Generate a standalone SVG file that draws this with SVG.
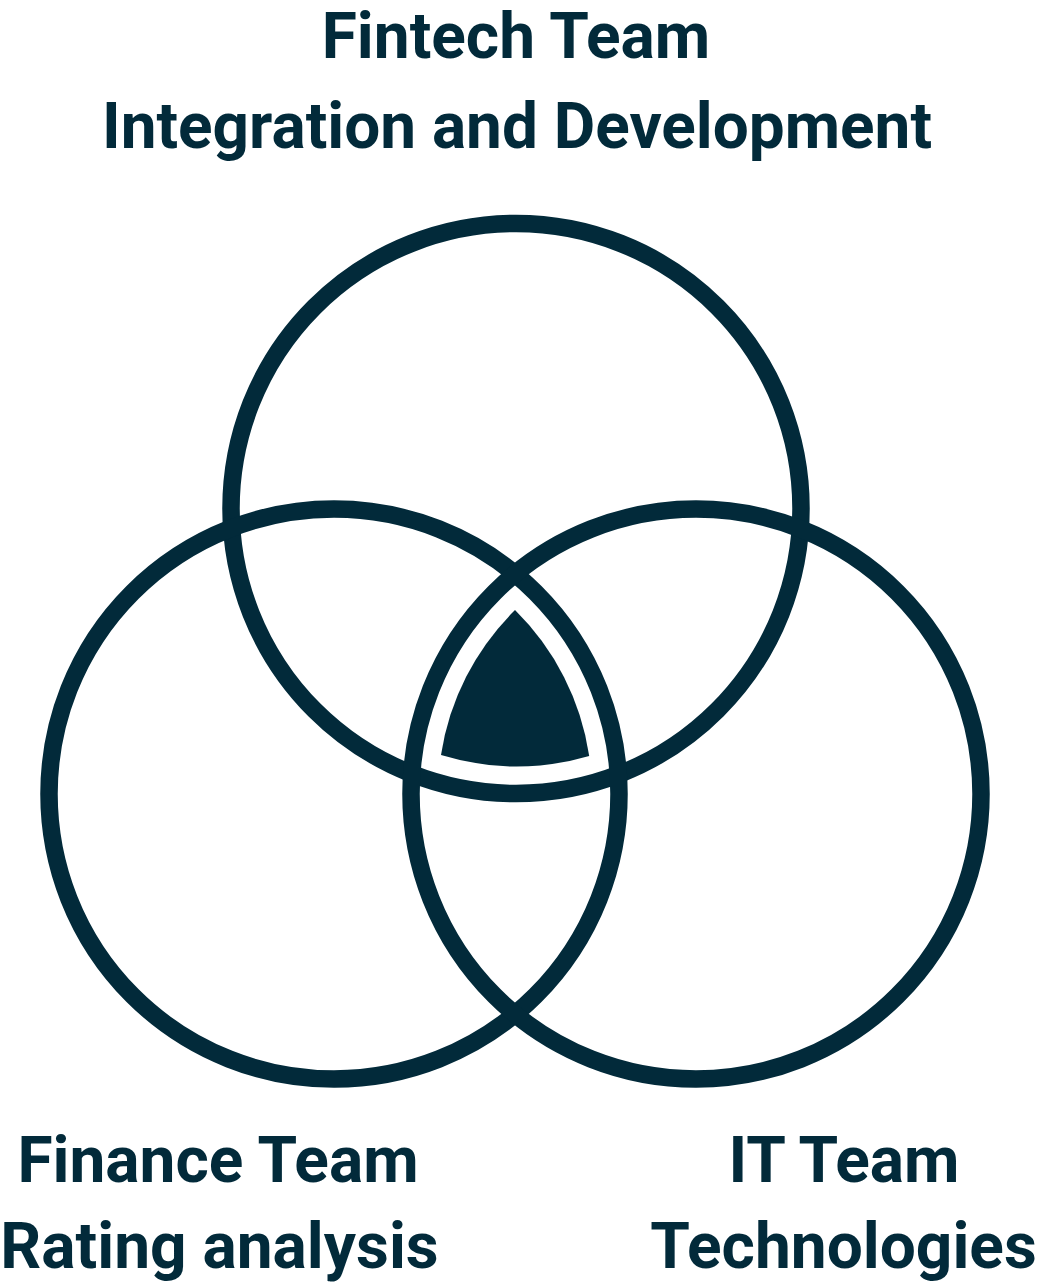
<svg xmlns="http://www.w3.org/2000/svg" width="1045" height="1285" viewBox="0 0 1045 1285">
<style>
.ring{fill:none;stroke:#022a3a;stroke-width:17.5}
.lbl{font-family:Roboto,"Liberation Sans",sans-serif;font-weight:700;font-size:64px;fill:#022a3a;text-anchor:middle}
</style>
<rect width="1045" height="1285" fill="#ffffff"/>
<g id="fintech">
<circle class="ring" cx="516" cy="508.5" r="285"/>
<text class="lbl" x="516" y="58">Fintech Team</text>
<text class="lbl" x="517" y="148" textLength="830" lengthAdjust="spacingAndGlyphs">Integration and Development</text>
</g>
<g id="finance">
<circle class="ring" cx="334" cy="794" r="285"/>
<text class="lbl" x="218" y="1182">Finance Team</text>
<text class="lbl" x="219.5" y="1268">Rating analysis</text>
</g>
<g id="it">
<circle class="ring" cx="696" cy="794" r="285"/>
<text class="lbl" x="844" y="1182">IT Team</text>
<text class="lbl" x="843.5" y="1268">Technologies</text>
</g>
<g id="core">
<path fill="#022a3a" d="M515 610.1 A258 258 0 0 1 589.2 755.9 A258 258 0 0 1 441 755 A258 258 0 0 1 515 610.1 Z"/>
</g>
<g id="connectors"></g>
</svg>
